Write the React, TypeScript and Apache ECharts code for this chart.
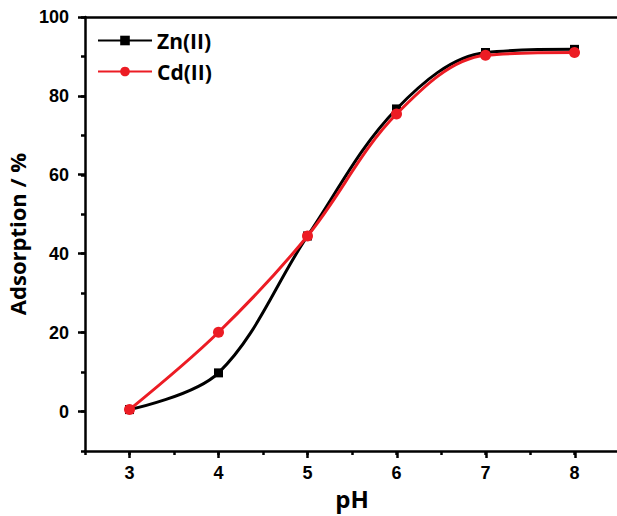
import React, { useEffect, useRef } from "react";
import * as echarts from "echarts";

const pH = [3, 4, 5, 6, 7, 8];
const znValues = [0.5, 9.8, 44.5, 76.7, 91.0, 91.8];
const cdValues = [0.5, 20.1, 44.5, 75.4, 90.3, 91.0];

const RED = "#ec1c24";
const LABEL_FONT = "'Liberation Sans', Arial, sans-serif";
const TITLE_FONT = "'Open Sans', 'Noto Sans', sans-serif";

// main plot box: x 2.5..8.5 -> px 85..619, y -10..100 -> px 451..17
const MAIN_GRID = { left: 85, top: 17, right: 1, bottom: 65, containLabel: false, outerBoundsMode: "none" };
// major-tick grid: x 3..9 (starts at pH 3), y 0..100 (ends at value 0)
const MAJOR_GRID = { left: 129.5, top: 17, right: -44, bottom: 105, containLabel: false, outerBoundsMode: "none" };

const tickStyle = { width: 2.5, color: "#000" };

export default function App() {
  const ref = useRef<HTMLDivElement>(null);
  useEffect(() => {
    if (!ref.current) return;
    const chart = echarts.init(ref.current, undefined, { renderer: "svg" });
    chart.setOption({
      animation: false,
      backgroundColor: "#fff",
      grid: [MAIN_GRID, MAJOR_GRID],
      legend: {
        left: 92,
        top: 25,
        orient: "vertical",
        itemWidth: 54,
        itemHeight: 12,
        itemGap: 10,
        textStyle: { fontFamily: TITLE_FONT, fontWeight: "bold", fontSize: 21, color: "#000" },
        data: ["Zn(II)", "Cd(II)"],
      },
      xAxis: [
        {
          gridIndex: 0,
          type: "value",
          min: 2.5,
          max: 8.5,
          interval: 0.5,
          position: "bottom",
          name: "pH",
          nameLocation: "middle",
          nameGap: 34,
          nameTextStyle: { fontFamily: TITLE_FONT, fontWeight: "bold", fontSize: 24, color: "#000" },
          axisLine: { show: true, onZero: false, lineStyle: { color: "#000", width: 2.5 } },
          axisTick: { show: true, length: 4, lineStyle: tickStyle },
          axisLabel: {
            formatter: (v: number) => (Number.isInteger(v) ? String(v) : ""),
            fontFamily: LABEL_FONT,
            fontWeight: "bold",
            fontSize: 18,
            color: "#000",
            margin: 13,
          },
          splitLine: { show: false },
        },
        {
          gridIndex: 0,
          type: "value",
          min: 2.5,
          max: 8.5,
          position: "top",
          axisLine: { show: true, onZero: false, lineStyle: { color: "#000", width: 2.5 } },
          axisTick: { show: false },
          axisLabel: { show: false },
          splitLine: { show: false },
        },
        {
          gridIndex: 1,
          type: "value",
          min: 3,
          max: 9,
          interval: 1,
          position: "bottom",
          offset: 40,
          axisLine: { show: false, onZero: false },
          axisTick: { show: true, length: 7, lineStyle: tickStyle },
          axisLabel: { show: false },
          splitLine: { show: false },
        },
      ],
      yAxis: [
        {
          gridIndex: 0,
          type: "value",
          min: -10,
          max: 100,
          interval: 10,
          position: "left",
          name: "Adsorption / %",
          nameLocation: "middle",
          nameGap: 56,
          nameTextStyle: { fontFamily: TITLE_FONT, fontWeight: "bold", fontSize: 22, color: "#000" },
          axisLine: { show: true, onZero: false, lineStyle: { color: "#000", width: 2.5 } },
          axisTick: { show: true, length: 4, lineStyle: tickStyle },
          axisLabel: {
            formatter: (v: number) => (v >= 0 && v % 20 === 0 ? String(v) : ""),
            fontFamily: LABEL_FONT,
            fontWeight: "bold",
            fontSize: 18,
            color: "#000",
            margin: 16,
          },
          splitLine: { show: false },
        },
        {
          gridIndex: 1,
          type: "value",
          min: 0,
          max: 100,
          interval: 20,
          position: "left",
          offset: 44.5,
          axisLine: { show: false, onZero: false },
          axisTick: { show: true, length: 7, lineStyle: tickStyle },
          axisLabel: { show: false },
          splitLine: { show: false },
        },
      ],
      series: [
        {
          name: "Zn(II)",
          type: "line",
          xAxisIndex: 0,
          yAxisIndex: 0,
          data: pH.map((x, i) => [x, znValues[i]]),
          smooth: 0.35,
          symbol: "rect",
          symbolSize: 9,
          lineStyle: { color: "#000", width: 3 },
          itemStyle: { color: "#000" },
          z: 2,
        },
        {
          name: "Cd(II)",
          type: "line",
          xAxisIndex: 0,
          yAxisIndex: 0,
          data: pH.map((x, i) => [x, cdValues[i]]),
          smooth: 0.35,
          symbol: "circle",
          symbolSize: 11,
          lineStyle: { color: RED, width: 3 },
          itemStyle: { color: RED },
          z: 3,
        },
      ],
    });
    return () => chart.dispose();
  }, []);
  return (
    <div
      ref={ref}
      style={{ position: "absolute", left: 0, top: 0, width: 620, height: 516, overflow: "hidden" }}
    />
  );
}
